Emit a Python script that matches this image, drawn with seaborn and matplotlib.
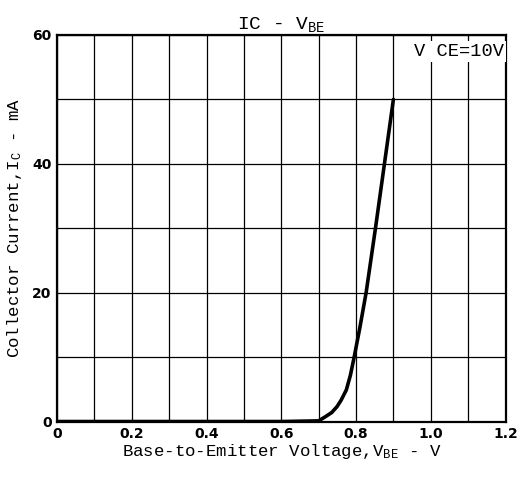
import matplotlib
matplotlib.use("Agg")
import matplotlib.pyplot as plt
import seaborn as sns
import pandas as pd
import numpy as np

# values
vbe = [0.0, 0.1, 0.2, 0.3, 0.4, 0.5, 0.6, 0.7, 0.718, 0.735, 0.749, 0.76,
       0.774, 0.785, 0.795, 0.81, 0.827, 0.852, 0.876, 0.9]
ic = [0.0, 0.0, 0.0, 0.0, 0.0, 0.0, 0.0, 0.1, 0.75, 1.4, 2.3, 3.3,
      4.9, 7.2, 10.0, 14.5, 20.0, 30.0, 40.0, 50.0]
x_ticks = [0, 0.2, 0.4, 0.6, 0.8, 1.0, 1.2]
x_labels = ["0", "0.2", "0.4", "0.6", "0.8", "1.0", "1.2"]
y_ticks = [0, 20, 40, 60]

sns.set_style("white")
plt.rcParams['font.family'] = ['DejaVu Sans']
plt.rcParams['text.color'] = 'black'
plt.rcParams['axes.labelcolor'] = 'black'
plt.rcParams['xtick.color'] = 'black'
plt.rcParams['ytick.color'] = 'black'
plt.rcParams['mathtext.fontset'] = 'custom'
plt.rcParams['mathtext.rm'] = 'Liberation Mono'
plt.rcParams['mathtext.it'] = 'Liberation Mono'

df = pd.DataFrame({"vbe": vbe, "ic": ic})

fig = plt.figure(figsize=(5.19, 4.79), dpi=100)
ax = fig.add_axes([0.110, 0.120, 0.864, 0.807])
sns.lineplot(data=df, x="vbe", y="ic", ax=ax, color="black", linewidth=2.6)

ax.set_xlim(0, 1.2)
ax.set_ylim(0, 60)
ax.set_xticks(x_ticks)
ax.set_xticklabels(x_labels, fontweight="bold", fontsize=10)
ax.set_yticks(y_ticks)
ax.set_yticklabels([str(v) for v in y_ticks], fontweight="bold", fontsize=10)
ax.set_xticks(np.arange(0, 1.21, 0.1), minor=True)
ax.set_yticks(np.arange(0, 61, 10), minor=True)
ax.grid(which="both", color="black", linewidth=0.9)
ax.tick_params(which="both", length=0, pad=4)
for s in ax.spines.values():
    s.set_color("black")
    s.set_linewidth(1.6)

mono = "Liberation Mono"
ax.set_xlabel(r"Base-to-Emitter Voltage,V$_{\mathrm{BE}}$ - V", family=mono,
              fontsize=12.5, labelpad=1)
ax.set_ylabel(r"Collector Current,I$_{\mathrm{C}}$ - mA", family=mono,
              fontsize=12.5, labelpad=6)
ax.set_title(r"IC - V$_{\mathrm{BE}}$", family=mono, fontsize=14, pad=4)
ax.text(1.195, 58.8, "V CE=10V", family=mono, fontsize=13.5, ha="right", va="top",
        bbox=dict(facecolor="white", edgecolor="none", pad=1.5), zorder=5)

plt.savefig("out.png", dpi=100)
plt.close(fig)
